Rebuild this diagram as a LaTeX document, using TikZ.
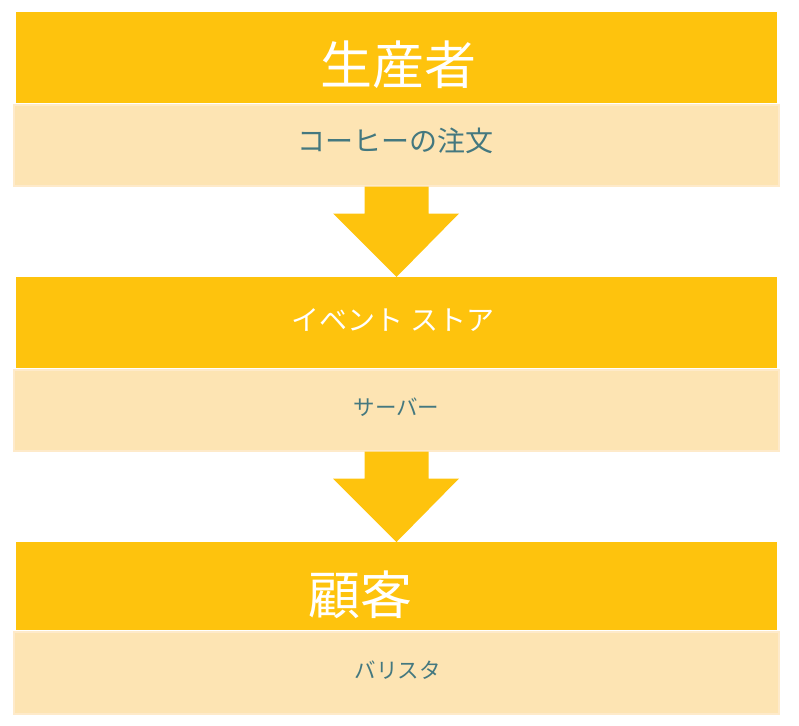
\documentclass[tikz,border=0pt]{standalone}
\usepackage{fontspec}
\newfontfamily\jpfont{Noto Sans CJK JP}
\usetikzlibrary{calc}
\definecolor{gold}{HTML}{FEC30D}
\definecolor{pale}{HTML}{FDE4B3}
\definecolor{paleedge}{HTML}{FEEACA}
\definecolor{teal}{HTML}{44787F}
\tikzset{
  headbox/.style={fill=gold, draw=none, inner sep=0, minimum width=761pt, minimum height=#1, anchor=north},
  subbox/.style={fill=pale, draw=paleedge, line width=1.5pt, inner sep=0, minimum width=765pt, minimum height=#1, anchor=north},
  bigtxt/.style={font=\jpfont\fontsize{52}{60}\selectfont, text=white, inner sep=0, anchor=base},
  midtxt/.style={font=\jpfont\fontsize{28}{32}\selectfont, text=#1, inner sep=0, anchor=base},
  smalltxt/.style={font=\jpfont\fontsize{21.5}{26}\selectfont, text=teal, inner sep=0, anchor=base},
  downarrow/.style={fill=gold, draw=none}
}
\begin{document}
\begin{tikzpicture}[x=1pt,y=-1pt]
\useasboundingbox (0,0) rectangle (799,725);
% boxes
\node[headbox=91pt] (h1) at (396.5,12) {};
\node[subbox=81pt] (s1) at (396.5,104) {};
\node[headbox=91pt] (h2) at (396.5,277) {};
\node[subbox=81pt] (s2) at (396.5,369) {};
\node[headbox=88pt] (h3) at (396.5,542) {};
\node[subbox=82pt] (s3) at (396.5,631) {};
% arrows
\fill[downarrow] ($(s1.south)+(-32,0)$) -- ($(s1.south)+(32,0)$) -- ($(s1.south)+(32,27)$)
  -- ($(s1.south)+(62.5,27)$) -- ($(h2.north)+(0,0)$) -- ($(s1.south)+(-63.5,27)$)
  -- ($(s1.south)+(-32,27)$) -- cycle;
\fill[downarrow] ($(s2.south)+(-32,0)$) -- ($(s2.south)+(32,0)$) -- ($(s2.south)+(32,27)$)
  -- ($(s2.south)+(62.5,27)$) -- ($(h3.north)+(0,0)$) -- ($(s2.south)+(-63.5,27)$)
  -- ($(s2.south)+(-32,27)$) -- cycle;
% texts
\node[bigtxt] (t1) at (398,84) {生産者};
\node[midtxt=teal] (t1s) at (395.5,151.5) {コーヒーの注文};
\node[midtxt=white] (t2) at (393,330) {イベント ストア};
\node[smalltxt] (t2s) at (396.5,415) {サーバー};
\node[bigtxt] (t3) at (360,614) {顧客};
\node[smalltxt] (t3s) at (397.5,678) {バリスタ};
\end{tikzpicture}
\end{document}
